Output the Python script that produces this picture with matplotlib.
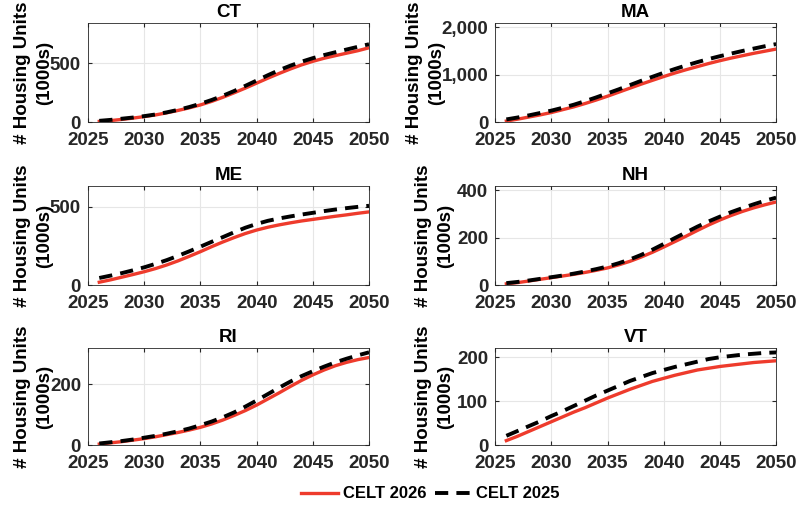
import matplotlib.pyplot as plt
from matplotlib.ticker import FuncFormatter

plt.rcParams['font.family'] = ['Liberation Sans', 'DejaVu Sans']
plt.rcParams['font.weight'] = 'bold'

years = list(range(2026, 2051))
states = ["CT", "MA", "ME", "NH", "RI", "VT"]

ct_2026 = [5, 12, 22, 33, 46, 60, 78, 98, 120, 145, 175, 210, 248, 288, 330,
           372, 412, 450, 485, 515, 541, 563, 584, 605, 630]
ct_2025 = [10, 18, 28, 38, 50, 64, 82, 103, 127, 155, 187, 223, 263, 307, 352,
           397, 440, 478, 512, 542, 568, 592, 615, 638, 660]
ma_2026 = [20, 60, 105, 150, 200, 260, 320, 390, 465, 545, 630, 715, 800, 880, 960,
           1035, 1105, 1170, 1235, 1295, 1350, 1400, 1450, 1495, 1540]
ma_2025 = [55, 95, 140, 190, 240, 300, 365, 440, 520, 605, 690, 780, 870, 955, 1040,
           1120, 1195, 1265, 1330, 1390, 1445, 1500, 1550, 1600, 1645]
me_2026 = [18, 33, 50, 67, 85, 105, 128, 154, 183, 213, 245, 275, 303, 329, 351,
           369, 384, 397, 409, 419, 429, 439, 448, 458, 467]
me_2025 = [45, 60, 76, 94, 113, 135, 159, 186, 215, 245, 276, 306, 337, 366, 390,
           410, 425, 438, 450, 461, 472, 482, 491, 499, 506]
nh_2026 = [5, 10, 17, 24, 31, 38, 45, 53, 62, 72, 85, 100, 118, 138, 160,
           183, 206, 230, 253, 274, 293, 310, 325, 338, 350]
nh_2025 = [8, 13, 19, 26, 33, 40, 48, 57, 67, 78, 92, 108, 127, 149, 173,
           198, 222, 246, 268, 288, 307, 324, 340, 355, 368]
ri_2026 = [3, 7, 11, 16, 21, 27, 34, 41, 49, 58, 69, 82, 97, 113, 131,
           151, 171, 192, 212, 230, 246, 260, 271, 280, 287]
ri_2025 = [5, 9, 13, 18, 24, 30, 37, 45, 54, 65, 77, 91, 107, 126, 146,
           167, 188, 208, 226, 242, 257, 271, 283, 294, 304]
vt_2026 = [10, 20, 31, 42, 53, 64, 75, 85, 96, 107, 117, 127, 136, 145, 152,
           159, 165, 171, 175, 179, 182, 185, 188, 190, 192]
vt_2025 = [21, 32, 43, 54, 66, 77, 89, 101, 113, 124, 135, 146, 155, 164, 171,
           178, 184, 190, 196, 200, 203, 206, 208, 210, 211]

celt_2026 = [ct_2026, ma_2026, me_2026, nh_2026, ri_2026, vt_2026]
celt_2025 = [ct_2025, ma_2025, me_2025, nh_2025, ri_2025, vt_2025]
y_max = [840, 2090, 632, 417, 318, 221]
y_ticks = [[0, 500], [0, 1000, 2000], [0, 500], [0, 200, 400], [0, 200], [0, 100, 200]]

fig = plt.figure(figsize=(7.96, 5.05), dpi=100)

lefts = [0.1106, 0.622]
bottoms = [0.7584, 0.4356, 0.1188]
heights = [0.196, 0.196, 0.192]
# right edge of the y label block, in axes fraction
label_x = [-0.125, -0.178, -0.125, -0.147, -0.125, -0.147]
fs = 13.5

for i, st in enumerate(states):
    row, col = divmod(i, 2)
    ax = fig.add_axes([lefts[col], bottoms[row], 0.353, heights[row]])
    l1, = ax.plot(years, celt_2026[i], color='#EE3B2C', lw=2.4, label='CELT 2026')
    l2, = ax.plot(years, celt_2025[i], color='black', lw=2.8, ls=(0, (3.4, 2.1)),
                  label='CELT 2025')
    ax.set_xlim(2025, 2050)
    ax.set_ylim(0, y_max[i])
    ax.set_xticks(range(2025, 2051, 5))
    ax.set_yticks(y_ticks[i])
    ax.yaxis.set_major_formatter(FuncFormatter(lambda v, p: "{:,.0f}".format(v)))
    ax.grid(True, color='#e6e6e6', lw=0.8)
    ax.set_axisbelow(True)
    ax.tick_params(direction='in', length=3, labelsize=fs, colors='#262626',
                   top=True, right=True)
    ax.tick_params(axis='x', pad=7)
    ax.tick_params(axis='y', pad=5)
    for lab in ax.get_xticklabels() + ax.get_yticklabels():
        lab.set_fontweight('bold')
    for sp in ax.spines.values():
        sp.set_color('#262626')
        sp.set_linewidth(0.6)
    ax.set_title(st, fontsize=fs, fontweight='bold', pad=4)
    ax.set_ylabel("# Housing Units\n(1000s)", fontsize=fs, fontweight='bold',
                  linespacing=1.4)
    ax.yaxis.set_label_coords(label_x[i], 0.5)

fig.legend([l1, l2], ['CELT 2026', 'CELT 2025'], loc='center', ncol=2,
           bbox_to_anchor=(0.541, 0.022), frameon=False, handlelength=2.2,
           columnspacing=0.5, handletextpad=0.3,
           prop={'size': 12, 'weight': 'bold'})

fig.savefig("out.png", dpi=100)
